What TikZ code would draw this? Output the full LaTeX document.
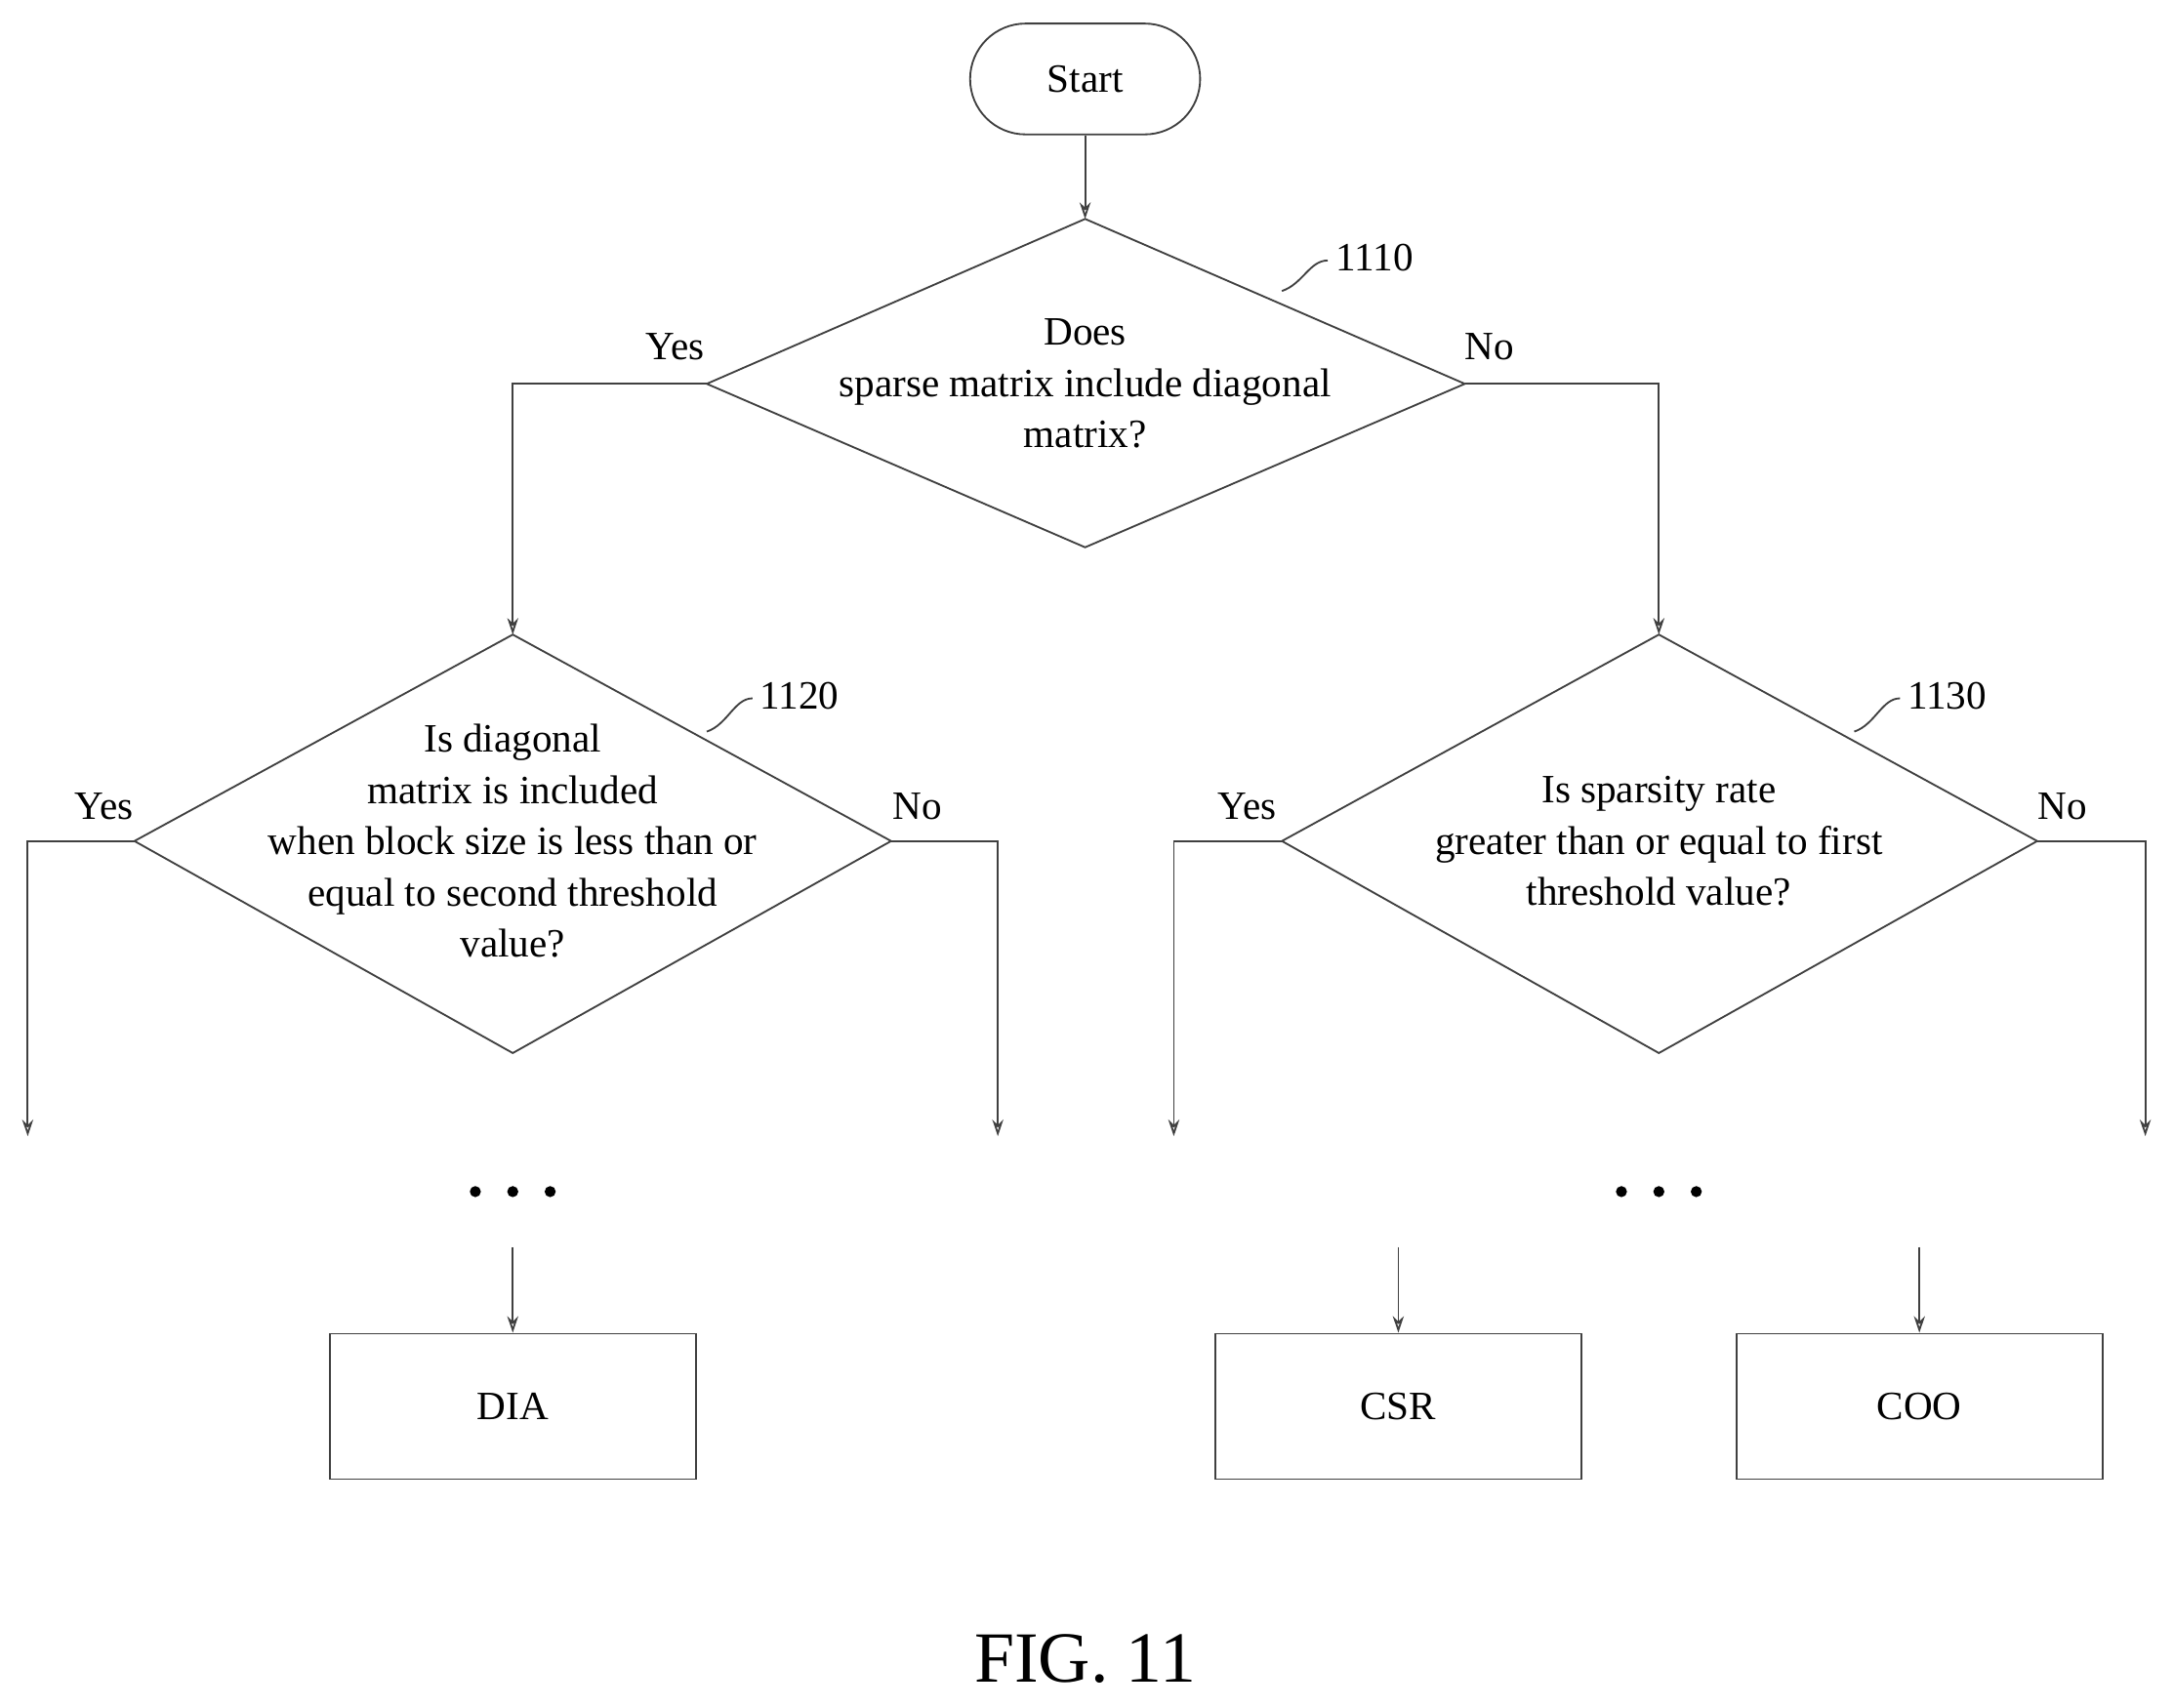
\documentclass[tikz,border=0pt]{standalone}
\usepackage{fontspec}
\setmainfont{Liberation Serif}
\usetikzlibrary{arrows.meta}
\begin{document}
\begin{tikzpicture}[x=1pt,y=-1pt,
  ln/.style={line width=1.3pt,draw=black!75},
  ar/.style={ln,-{Stealth[length=12pt,width=8pt,open]}},
  txt/.style={font=\fontsize{29}{37}\selectfont,align=center},
  box/.style={ln,minimum width=264pt,minimum height=105pt,font=\fontsize{29}{37}\selectfont},
  dot/.style={circle,fill=black,inner sep=0pt,minimum size=8pt}]
\useasboundingbox (0,0) rectangle (1568,1232);
% Start
\node[ln,rounded corners=40pt,minimum width=166pt,minimum height=80pt,txt] (start) at (783,57) {Start};
% diamonds
\draw[ln] (783,158) coordinate (d1t) -- (1057,277) coordinate (d1r) -- (783,395) -- (510,277) coordinate (d1l) -- cycle;
\node[txt] (t1) at (783,277) {Does\\sparse matrix include diagonal\\matrix?};
\draw[ln] (370,458) coordinate (d2t) -- (643,607) coordinate (d2r) -- (370,760) -- (97,607) coordinate (d2l) -- cycle;
\node[txt] (t2) at (370,607) {Is diagonal\\matrix is included\\when block size is less than or\\equal to second threshold\\value?};
\draw[ln] (1197,458) coordinate (d3t) -- (1470,607) coordinate (d3r) -- (1197,760) -- (925,607) coordinate (d3l) -- cycle;
\node[txt] (t3) at (1197,607) {Is sparsity rate\\greater than or equal to first\\threshold value?};
% labels
\node[txt] (l1) at (992,186) {1110};
\draw[ln] (925,210) .. controls (940,205) and (945,188) .. (958,188);
\node[txt] (l2) at (577,502) {1120};
\draw[ln] (510,528) .. controls (525,523) and (530,504) .. (543,504);
\node[txt] (l3) at (1405,502) {1130};
\draw[ln] (1338,528) .. controls (1353,523) and (1358,504) .. (1371,504);
% connectors
\draw[ar] (start.south) -- (d1t);
\draw[ar] (d1l) -| (d2t);
\draw[ar] (d1r) -| (d3t);
\node[txt] (y1) at (487,250) {Yes};
\node[txt] (n1) at (1075,250) {No};
\coordinate (e1) at (20,820); \coordinate (e2) at (720,820);
\coordinate (e3) at (847,820); \coordinate (e4) at (1548,820);
\draw[ar] (d2l) -| (e1);
\draw[ar] (d2r) -| (e2);
\draw[ar] (d3l) -| (e3);
\draw[ar] (d3r) -| (e4);
\node[txt] (y2) at (75,582) {Yes};
\node[txt] (n2) at (662,582) {No};
\node[txt] (y3) at (900,582) {Yes};
\node[txt] (n3) at (1488,582) {No};
% dots
\node[dot] (a1) at (343,860) {}; \node[dot] (a2) at (370,860) {}; \node[dot] (a3) at (397,860) {};
\node[dot] (b1) at (1170,860) {}; \node[dot] (b2) at (1197,860) {}; \node[dot] (b3) at (1224,860) {};
% boxes
\node[box] (dia) at (370,1015) {DIA};
\node[box] (csr) at (1009,1015) {CSR};
\node[box] (coo) at (1385,1015) {COO};
\coordinate (s1) at (370,900); \coordinate (s2) at (1009,900); \coordinate (s3) at (1385,900);
\draw[ar] (s1) -- (dia.north);
\draw[ar] (s2) -- (csr.north);
\draw[ar] (s3) -- (coo.north);
\node[font=\fontsize{52}{60}\selectfont] (fig) at (783,1197) {FIG. 11};
\end{tikzpicture}
\end{document}
